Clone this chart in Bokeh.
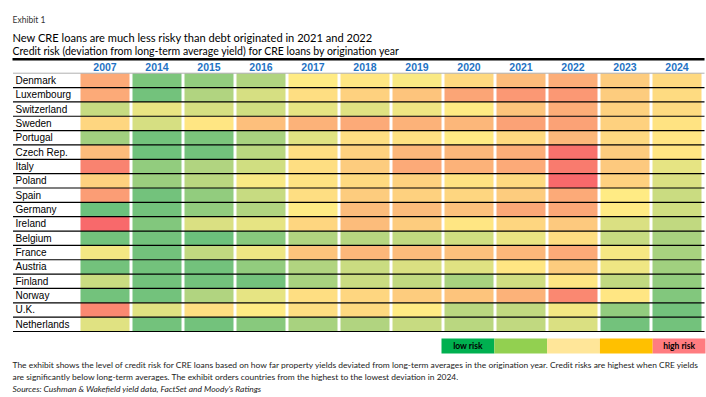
from bokeh.plotting import figure
from bokeh.models import Range1d, ColumnDataSource, LinearColorMapper
from bokeh.transform import transform
from bokeh.core.properties import value
from bokeh.embed import file_html
from bokeh.resources import INLINE

# ---------------- data ----------------
years = ["2007", "2014", "2015", "2016", "2017", "2018", "2019", "2020", "2021", "2022", "2023", "2024"]
countries = ["Denmark", "Luxembourg", "Switzerland", "Sweden", "Portugal", "Czech Rep.", "Italy",
             "Poland", "Spain", "Germany", "Ireland", "Belgium", "France", "Austria", "Finland",
             "Norway", "U.K.", "Netherlands"]
# risk score by origination year: 0 = lowest risk (green), 50 = neutral (yellow), 100 = highest (red)
risk_denmark = [75, 8, 15, 25, 50, 52, 48, 57, 68, 74, 62, 57]
risk_luxembourg = [75, 5, 25, 37, 55, 60, 65, 77, 82, 82, 62, 56]
risk_switzerland = [32, 43, 37, 35, 42, 40, 45, 50, 65, 74, 60, 56]
risk_sweden = [58, 37, 52, 67, 72, 75, 72, 70, 78, 78, 60, 53]
risk_portugal = [20, 5, 8, 22, 40, 55, 54, 50, 57, 70, 57, 52]
risk_czech = [68, 4, 5, 28, 55, 60, 70, 70, 74, 97, 62, 52]
risk_italy = [90, 15, 25, 35, 55, 62, 75, 72, 75, 93, 63, 42]
risk_poland = [60, 18, 28, 48, 53, 57, 60, 53, 57, 100, 60, 38]
risk_spain = [80, 5, 15, 32, 55, 62, 60, 58, 62, 75, 50, 33]
risk_germany = [3, 5, 15, 25, 50, 68, 68, 66, 76, 76, 50, 35]
risk_ireland = [100, 10, 38, 42, 58, 68, 62, 52, 58, 63, 38, 30]
risk_belgium = [5, 5, 3, 12, 25, 27, 30, 35, 43, 55, 32, 22]
risk_france = [46, 5, 30, 45, 65, 70, 68, 66, 70, 75, 47, 22]
risk_austria = [5, 5, 5, 15, 25, 33, 38, 40, 52, 62, 45, 20]
risk_finland = [33, 5, 5, 5, 22, 33, 30, 22, 35, 52, 30, 15]
risk_norway = [5, 5, 25, 42, 55, 58, 62, 65, 72, 88, 52, 10]
risk_uk = [88, 40, 55, 50, 55, 57, 50, 28, 30, 46, 15, 5]
risk_netherlands = [40, 5, 5, 12, 22, 25, 32, 28, 30, 38, 5, 5]

risk_rows = [risk_denmark, risk_luxembourg, risk_switzerland, risk_sweden, risk_portugal,
             risk_czech, risk_italy, risk_poland, risk_spain, risk_germany, risk_ireland,
             risk_belgium, risk_france, risk_austria, risk_finland, risk_norway, risk_uk,
             risk_netherlands]

legend_labels = ["low risk", "", "", "", "high risk"]

# ---------------- layout / style ----------------
W, H = 706, 397
PX0, PY0 = 0, 0
COL_X0, COL_W = 78.5, 52.0
ROW_Y0, ROW_H = 72.7, 14.35


def ux(px):
    return (px - COL_X0) / COL_W


def uy(py):
    return (py - ROW_Y0) / ROW_H


def lerp_palette(stops, n):
    out = []
    for k in range(n):
        t = k / (n - 1) * (len(stops) - 1)
        i = min(int(t), len(stops) - 2)
        f = t - i
        a, b = stops[i], stops[i + 1]
        c = [round(a[j] + (b[j] - a[j]) * f) for j in range(3)]
        out.append("#%02x%02x%02x" % tuple(c))
    return out


palette = lerp_palette([(99, 190, 123), (255, 235, 132), (248, 105, 107)], 201)
mapper = LinearColorMapper(palette=palette, low=0, high=100)

p = figure(width=W, height=H,
           x_range=Range1d(ux(PX0), ux(PX0 + W)),
           y_range=Range1d(uy(PY0 + H), uy(PY0)),
           x_axis_type=None, y_axis_type=None,
           output_backend="svg", toolbar_location=None, min_border=0)
p.grid.visible = False
p.outline_line_color = None
p.background_fill_color = "white"

# cells
xs, ys, vals = [], [], []
for r, row in enumerate(risk_rows):
    for c, v in enumerate(row):
        xs.append(c + 0.5)
        ys.append(r + 0.5)
        vals.append(v)
src = ColumnDataSource(dict(x=xs, y=ys, risk=vals))
p.rect(x="x", y="y", width=49 / COL_W, height=1.0, source=src,
       fill_color=transform("risk", mapper), line_color=None)

# row rules
n = len(countries)
p.segment(x0=[ux(12.5)] * n, x1=[ux(704)] * n, y0=[r + 1 for r in range(n)],
          y1=[r + 1 for r in range(n)], line_color="black", line_width=1.2)
p.segment(x0=[ux(12.5)], x1=[ux(704)], y0=[0], y1=[0], line_color="#b0b0b0", line_width=1)
p.segment(x0=[ux(12)], x1=[ux(704)], y0=[uy(58.8)], y1=[uy(58.8)], line_color="black", line_width=2.4)

# header years
p.text(x=[c + 0.5 for c in range(len(years))], y=[uy(66.3)] * len(years), text=years,
       text_font=value("Liberation Sans"), text_font_style="bold", text_font_size="10.5px",
       text_color="#1f73c4", text_align="center", text_baseline="middle")

# country labels
p.text(x=[ux(15)] * n, y=[r + 0.5 for r in range(n)], text=countries,
       text_font=value("Liberation Sans"), text_font_size="10px", text_color="black",
       text_align="left", text_baseline="middle")

# titles
TF = value("Lato")
p.text(x=[ux(12)], y=[uy(19.8)], text=["Exhibit 1"], text_font=TF, text_font_size="8.5px",
       text_color="#333333", text_baseline="middle")
p.text(x=[ux(12)], y=[uy(37)], text=["New CRE loans are much less risky than debt originated in 2021 and 2022"],
       text_font=TF, text_font_size="11.1px", text_color="black", text_baseline="alphabetic")
p.text(x=[ux(12)], y=[uy(50.5)], text=["Credit risk (deviation from long-term average yield) for CRE loans by origination year"],
       text_font=TF, text_font_size="10.5px", text_color="black", text_baseline="alphabetic")

# legend
leg_colors = ["#00b050", "#92d050", "#ffe699", "#ffc000", "#ff7c80"]
LW = 52.8
p.rect(x=[ux(441 + LW * (k + 0.5)) for k in range(5)], y=[uy(345.5)] * 5,
       width=LW / COL_W, height=15 / ROW_H, fill_color=leg_colors, line_color=None)
p.text(x=[ux(441 + LW * (k + 0.5)) for k in range(5)], y=[uy(345.5)] * 5, text=legend_labels,
       text_font=TF, text_font_style="bold", text_font_size="8.5px", text_color="black",
       text_align="center", text_baseline="middle")

# footnotes
notes = ["The exhibit shows the level of credit risk for CRE loans based on how far property yields deviated from long-term averages in the origination year. Credit risks are highest when CRE yields",
         "are significantly below long-term averages. The exhibit orders countries from the highest to the lowest deviation in 2024."]
p.text(x=[ux(12)] * 2, y=[uy(364), uy(376.5)], text=notes, text_font=TF, text_font_size="8.45px",
       text_color="#222222", text_baseline="middle")
p.text(x=[ux(12)], y=[uy(388)], text=["Sources: Cushman & Wakefield yield data, FactSet and Moody's Ratings"],
       text_font=TF, text_font_size="8.45px", text_font_style="italic", text_color="#222222",
       text_baseline="middle")

open("out.html", "w").write(file_html(p, INLINE))
